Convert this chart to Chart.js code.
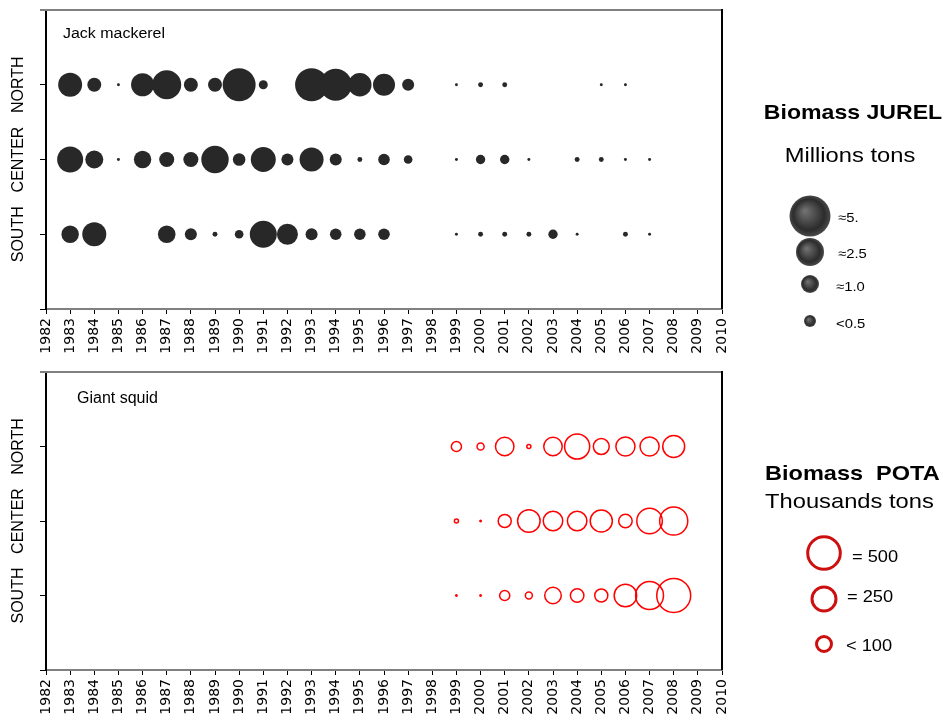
<!DOCTYPE html>
<html>
<head>
<meta charset="utf-8">
<script src="https://cdn.jsdelivr.net/npm/chart.js@4/dist/chart.umd.min.js"></script>
<style>
  html, body { margin: 0; padding: 0; background: #fff; }
  body { width: 945px; height: 718px; position: relative; overflow: hidden; }
  #jurelChart { position: absolute; left: 0; top: 0; }
  #potaChart { position: absolute; left: 0; top: 362px; }
</style>
</head>
<body>
<canvas id="jurelChart" width="945" height="365"></canvas>
<canvas id="potaChart" width="945" height="356"></canvas>
<script>
// rows from bottom to top
const regions = ["SOUTH", "CENTER", "NORTH"];

// Jack mackerel (JUREL) biomass, millions tons, 1983-2008
const jurelYears = [1983, 1984, 1985, 1986, 1987, 1988, 1989, 1990, 1991, 1992, 1993, 1994, 1995,
  1996, 1997, 1998, 1999, 2000, 2001, 2002, 2003, 2004, 2005, 2006, 2007, 2008];
const jurelNorth = [2.63, 0.89, 0.04, 2.42, 3.84, 0.89, 0.89, 4.97, 0.37, null, 4.97, 4.67, 2.50,
  2.21, 0.66, null, 0.04, 0.11, 0.11, null, null, null, 0.04, 0.04, null, null];
const jurelCenter = [3.09, 1.48, 0.04, 1.38, 1.03, 1.03, 3.43, 0.72, 2.85, 0.66, 2.63, 0.66, 0.11,
  0.61, 0.34, null, 0.04, 0.40, 0.40, 0.04, null, 0.11, 0.11, 0.04, 0.04, null];
const jurelSouth = [1.38, 2.63, null, null, 1.41, 0.66, 0.11, 0.34, 3.33, 2.01, 0.66, 0.61, 0.61,
  0.61, null, null, 0.04, 0.11, 0.11, 0.11, 0.40, 0.04, null, 0.11, 0.04, null];

// Giant squid (POTA) biomass, thousands tons, 1999-2008
const potaYears = [1999, 2000, 2001, 2002, 2003, 2004, 2005, 2006, 2007, 2008];
const potaNorth = [53, 29, 156, 12, 156, 276, 118, 166, 166, 214];
const potaCenter = [12, 3.5, 83, 225, 172, 172, 218, 88, 285, 342];
const potaSouth = [3.5, 3.5, 53, 28, 127, 88, 83, 225, 338, 490];

const jurelLegendLabels = ["≈5.", "≈2.5", "≈1.0", "<0.5"];
const potaLegendLabels = ["= 500", "= 250", "< 100"];

const SANS = "Liberation Sans, Arial, sans-serif";

const jurelRadius = v => 7.4 * Math.sqrt(v);
const potaRadius = v => Math.max(0.8 * Math.sqrt(v) - 0.75, 0.6);

function toPoints(years, values, row, radius) {
  const pts = [];
  years.forEach((yr, i) => {
    if (values[i] == null) return;
    pts.push({ x: yr, y: row, r: radius(values[i]) });
  });
  return pts;
}

function stretchText(ctx, text, x, y, font, align, sx) {
  ctx.save();
  ctx.font = font;
  ctx.textAlign = align;
  ctx.textBaseline = "alphabetic";
  ctx.translate(x, y);
  ctx.scale(sx, 1);
  ctx.fillText(text, 0, 0);
  ctx.restore();
}

// frame, region labels and panel title
const framePlugin = {
  id: "frame",
  afterDraw(chart, args, opts) {
    const { ctx, chartArea: a, scales } = chart;
    ctx.save();
    ctx.lineWidth = 2;
    ctx.strokeStyle = "#808080";
    ctx.beginPath();
    ctx.moveTo(a.left - 6, a.top);
    ctx.lineTo(a.right, a.top);
    ctx.stroke();
    ctx.strokeStyle = "#000";
    ctx.beginPath();
    ctx.moveTo(a.right, a.top - 1);
    ctx.lineTo(a.right, a.bottom);
    ctx.stroke();

    ctx.fillStyle = "#000";
    ctx.font = "16px " + SANS;
    ctx.textAlign = "center";
    ctx.textBaseline = "middle";
    regions.forEach((name, i) => {
      const y = scales.y.getPixelForValue(i + 1);
      ctx.save();
      ctx.translate(19, y);
      ctx.rotate(-Math.PI / 2);
      ctx.fillText(name, 0, 0);
      ctx.restore();
    });

    stretchText(ctx, opts.title, opts.titleX, opts.titleY, opts.titleFont, "left", opts.titleStretch);
    ctx.restore();
  }
};

const jurelLegendPlugin = {
  id: "jurelLegend",
  afterDraw(chart) {
    const ctx = chart.ctx;
    ctx.save();
    ctx.fillStyle = "#000";
    stretchText(ctx, "Biomass JUREL", 853, 119, "bold 21px " + SANS, "center", 1.1);
    stretchText(ctx, "Millions tons", 850, 162, "21px " + SANS, "center", 1.13);

    const ys = [216, 252, 284, 321];
    const rs = [20.5, 14, 9, 6];
    const lx = [838, 838, 836, 836];
    const ly = [222, 258, 291, 328];
    const cx = 810;
    jurelLegendLabels.forEach((lab, i) => {
      const cy = ys[i], r = rs[i];
      const g = ctx.createRadialGradient(cx - r * 0.25, cy - r * 0.25, r * 0.05, cx, cy, r);
      g.addColorStop(0, "#707070");
      g.addColorStop(0.75, "#2c2c2c");
      g.addColorStop(1, "#4a4a4a");
      ctx.fillStyle = g;
      ctx.beginPath();
      ctx.arc(cx, cy, r, 0, Math.PI * 2);
      ctx.fill();
      ctx.fillStyle = "#000";
      stretchText(ctx, lab, lx[i], ly[i], "13px " + SANS, "left", 1.14);
    });
    ctx.restore();
  }
};

const potaLegendPlugin = {
  id: "potaLegend",
  afterDraw(chart) {
    const ctx = chart.ctx;
    ctx.save();
    ctx.fillStyle = "#000";
    stretchText(ctx, "Biomass  POTA", 765, 118, "bold 21px " + SANS, "left", 1.12);
    stretchText(ctx, "Thousands tons", 765, 146, "21px " + SANS, "left", 1.13);

    const ys = [191, 237, 282];
    const rs = [16.3, 12, 7.5];
    const lx = [852, 847, 846];
    const ly = [200, 240, 289];
    const cx = 824;
    potaLegendLabels.forEach((lab, i) => {
      ctx.strokeStyle = "#cc1010";
      ctx.lineWidth = 3;
      ctx.beginPath();
      ctx.arc(cx, ys[i], rs[i], 0, Math.PI * 2);
      ctx.stroke();
      ctx.fillStyle = "#000";
      stretchText(ctx, lab, lx[i], ly[i], "16px " + SANS, "left", 1.14);
    });
    ctx.restore();
  }
};

function makeChart(canvasId, datasets, xHeight, titleOpts, legendPlugin) {
  const ctx = document.getElementById(canvasId).getContext("2d");
  return new Chart(ctx, {
    type: "bubble",
    data: { datasets },
    options: {
      responsive: false,
      animation: false,
      events: [],
      layout: { autoPadding: false, padding: { left: 0, top: 10, right: 223, bottom: 0 } },
      scales: {
        x: {
          type: "linear",
          min: 1982,
          max: 2010,
          afterFit: s => { s.height = xHeight; },
          grid: { drawOnChartArea: false, drawTicks: true, tickLength: 5, color: "#000", lineWidth: 1 },
          border: { color: "#808080", width: 2 },
          ticks: {
            stepSize: 1,
            autoSkip: false,
            minRotation: 90,
            maxRotation: 90,
            padding: 4,
            color: "#000",
            font: { family: "DejaVu Sans, sans-serif", size: 14 },
            callback: v => String(v)
          }
        },
        y: {
          type: "linear",
          min: 0,
          max: 4,
          afterFit: s => { s.width = 46; },
          grid: { drawOnChartArea: false, drawTicks: true, tickLength: 6, color: "#000", lineWidth: 1 },
          border: { color: "#000", width: 2 },
          ticks: { stepSize: 1, display: false }
        }
      },
      plugins: {
        legend: { display: false },
        tooltip: { enabled: false },
        frame: titleOpts
      }
    },
    plugins: [framePlugin, legendPlugin]
  });
}

const jurelRows = [jurelSouth, jurelCenter, jurelNorth];
const jurelSets = jurelRows.map((vals, i) => ({
  label: regions[i],
  data: toPoints(jurelYears, vals, i + 1, jurelRadius),
  backgroundColor: "#282828",
  borderWidth: 0,
  clip: false
}));

const potaRows = [potaSouth, potaCenter, potaNorth];
const potaSets = potaRows.map((vals, i) => ({
  label: regions[i],
  data: toPoints(potaYears, vals, i + 1, potaRadius),
  backgroundColor: "rgba(0,0,0,0)",
  borderColor: "#ff0000",
  borderWidth: 1.5,
  clip: false
}));

makeChart("jurelChart", jurelSets, 56,
  { title: "Jack mackerel", titleX: 63, titleY: 38, titleFont: "14px " + SANS, titleStretch: 1.14 },
  jurelLegendPlugin);
makeChart("potaChart", potaSets, 48,
  { title: "Giant squid", titleX: 77, titleY: 41, titleFont: "16px " + SANS, titleStretch: 1.0 },
  potaLegendPlugin);
</script>
</body>
</html>
